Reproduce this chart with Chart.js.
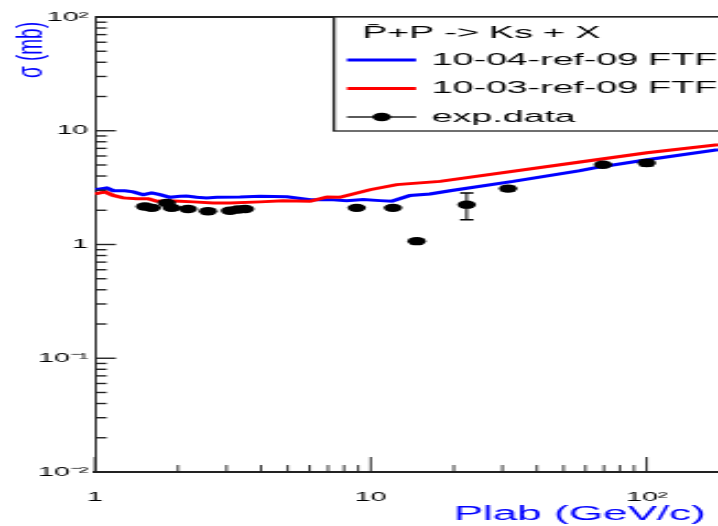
<!DOCTYPE html>
<html>
<head>
<meta charset="utf-8">
<script src="https://cdn.jsdelivr.net/npm/chart.js@4.4.1/dist/chart.umd.min.js"></script>
<style>
  html, body { margin: 0; padding: 0; background: #fff; overflow: hidden; }
  /* plot is laid out narrow and stretched sideways, like the wide canvas it came from */
  #wrap { position: absolute; left: 0; top: 0; width: 326px; height: 526px;
          transform: scaleX(2.2025); transform-origin: 0 0; }
</style>
</head>
<body>
<div id="wrap"><canvas id="xsec"></canvas></div>
<script>
// FTF 10-04-ref-09: Plab (GeV/c) and sigma (mb)
const ftf1004Plab  = [1.0, 1.103, 1.165, 1.285, 1.377, 1.497, 1.606, 1.721, 1.870, 2.033, 2.150, 2.337, 2.541, 2.762, 3.356, 3.966, 4.969, 6.02, 7.11, 8.18, 9.39, 10.80, 11.91, 13.87, 16.39, 19.37, 32.8, 57.4, 63.9, 100.3, 181.5];
const ftf1004Sigma = [3.03, 3.14, 2.97, 2.97, 2.90, 2.74, 2.84, 2.74, 2.60, 2.65, 2.67, 2.60, 2.57, 2.60, 2.62, 2.65, 2.63, 2.48, 2.48, 2.43, 2.48, 2.43, 2.40, 2.70, 2.78, 2.97, 3.59, 4.46, 4.70, 5.56, 6.81];

// FTF 10-03-ref-09
const ftf1003Plab  = [1.0, 1.087, 1.165, 1.266, 1.416, 1.561, 1.674, 1.820, 2.033, 2.273, 2.685, 3.087, 3.966, 4.806, 6.02, 6.94, 7.73, 8.41, 9.93, 12.42, 17.82, 57.4, 100.3, 181.5];
const ftf1003Sigma = [2.78, 2.90, 2.70, 2.57, 2.53, 2.53, 2.40, 2.43, 2.40, 2.37, 2.32, 2.32, 2.37, 2.42, 2.40, 2.62, 2.60, 2.74, 3.03, 3.36, 3.59, 5.31, 6.41, 7.54];

// measured points with error bar ends
const expPlab    = [1.518, 1.606, 1.820, 1.897, 2.174, 2.569, 3.087, 3.30, 3.50, 8.89, 12.03, 14.67, 22.27, 31.45, 69.5, 100.1];
const expSigma   = [2.16, 2.10, 2.32, 2.10, 2.05, 1.96, 1.98, 2.03, 2.05, 2.10, 2.10, 1.07, 2.24, 3.10, 5.03, 5.21];
const expErrLow  = [2.16, 2.10, 2.32, 2.10, 2.05, 1.96, 1.98, 2.03, 2.05, 2.05, 2.05, 1.07, 1.65, 2.95, 4.90, 4.90];
const expErrHigh = [2.16, 2.10, 2.32, 2.10, 2.05, 1.96, 1.98, 2.03, 2.05, 2.15, 2.15, 1.07, 2.84, 3.25, 5.18, 5.55];

const xTickValues = [1, 10, 100];
const xTickLabels = ['1', '10', '10²'];
const yTickValues = [0.01, 0.1, 1, 10, 100];
const yTickLabels = ['10⁻²', '10⁻¹', '1', '10', '10²'];

const seriesLabels = ['10-04-ref-09 FTF', '10-03-ref-09 FTF', 'exp.data'];
const legendTitle = 'P\u0304+P -> Ks + X';
const yTitle = 'σ (mb)';

const FONT = "'Liberation Sans', Arial, Helvetica, sans-serif";
const AXIS_COLOR = '#222';

const toXY = (xs, ys) => xs.map((x, i) => ({ x: x, y: ys[i] }));

// ROOT style tick marks pointing into the frame, plus the top frame line
const insideTicks = {
  id: 'insideTicks',
  afterDatasetsDraw(chart) {
    const { ctx, chartArea: a, scales: { x, y } } = chart;
    ctx.save();
    ctx.strokeStyle = AXIS_COLOR;

    ctx.lineWidth = 2;
    ctx.beginPath();
    ctx.moveTo(a.left, a.top);
    ctx.lineTo(a.right + 2, a.top);
    ctx.stroke();

    ctx.lineWidth = 1.4;
    for (let d = -2; d <= 2; d++) {
      for (let m = 1; m <= 9; m++) {
        const v = m * Math.pow(10, d);
        if (v > y.max * 1.0001) break;
        const py = y.getPixelForValue(v);
        const len = m === 1 ? 9.5 : 5.3;
        ctx.beginPath();
        ctx.moveTo(a.left, py);
        ctx.lineTo(a.left + len, py);
        ctx.stroke();
      }
    }

    ctx.lineWidth = 0.9;
    for (let d = 0; d <= 2; d++) {
      for (let m = 1; m <= 9; m++) {
        const v = m * Math.pow(10, d);
        if (v > x.max) break;
        const px = x.getPixelForValue(v);
        const len = m === 1 ? 15 : 7;
        ctx.beginPath();
        ctx.moveTo(px, a.bottom);
        ctx.lineTo(px, a.bottom - len);
        ctx.stroke();
      }
    }
    ctx.restore();
  }
};

const errorBars = {
  id: 'errorBars',
  afterDatasetsDraw(chart) {
    const { ctx, scales: { x, y } } = chart;
    ctx.save();
    ctx.strokeStyle = '#000';
    expPlab.forEach((p, i) => {
      if (expErrHigh[i] - expErrLow[i] <= 0) return;
      const px = x.getPixelForValue(p);
      const y1 = y.getPixelForValue(expErrLow[i]);
      const y2 = y.getPixelForValue(expErrHigh[i]);
      ctx.lineWidth = 1;
      ctx.beginPath();
      ctx.moveTo(px, y1);
      ctx.lineTo(px, y2);
      ctx.stroke();
      ctx.lineWidth = 1.5;
      ctx.beginPath();
      ctx.moveTo(px - 3, y1); ctx.lineTo(px + 3, y1);
      ctx.moveTo(px - 3, y2); ctx.lineTo(px + 3, y2);
      ctx.stroke();
    });
    ctx.restore();
  }
};

// vertical axis title, top aligned; the built-in one gets squeezed to the scale width
const yAxisTitle = {
  id: 'yAxisTitle',
  afterDraw(chart) {
    const { ctx, chartArea: a } = chart;
    ctx.save();
    ctx.font = '20px ' + FONT;
    const size = 20 * 56 / ctx.measureText(yTitle).width;
    ctx.font = size.toFixed(1) + 'px ' + FONT;
    ctx.fillStyle = '#0000ff';
    ctx.textAlign = 'right';
    ctx.textBaseline = 'middle';
    ctx.translate(14.1, a.top + 5);
    ctx.scale(0.85, 1);
    ctx.rotate(-Math.PI / 2);
    ctx.fillText(yTitle, 0, 0);
    ctx.restore();
  }
};

// TLegend-like box in the upper right corner
const legendBox = {
  id: 'legendBox',
  afterDraw(chart) {
    const { ctx, chartArea: a } = chart;
    const left = 151.6, top = a.top, bottom = 131, right = chart.width + 4;
    ctx.save();
    ctx.fillStyle = '#fff';
    ctx.fillRect(left, top, right - left, bottom - top);
    ctx.strokeStyle = AXIS_COLOR;
    ctx.lineWidth = 1.3;
    ctx.strokeRect(left, top, right - left, bottom - top);

    ctx.font = '17px ' + FONT;
    ctx.textBaseline = 'middle';
    ctx.fillStyle = '#000';
    ctx.fillText(legendTitle, 164.4, 33);

    const rows = [60, 88.5, 117];
    chart.data.datasets.forEach((ds, i) => {
      const ry = rows[i];
      ctx.strokeStyle = ds.borderColor;
      ctx.lineWidth = ds.showLine === false ? 1.3 : 3;
      ctx.beginPath();
      ctx.moveTo(157.5, ry);
      ctx.lineTo(188.9, ry);
      ctx.stroke();
      if (ds.showLine === false) {
        ctx.fillStyle = ds.pointBackgroundColor;
        ctx.beginPath();
        ctx.arc(173.3, ry, ds.pointRadius, 0, Math.PI * 2);
        ctx.fill();
      }
      ctx.fillStyle = '#000';
      ctx.fillText(ds.label, 196.1, ry);
    });
    ctx.restore();
  }
};

new Chart(document.getElementById('xsec'), {
  type: 'line',
  data: {
    datasets: [
      {
        label: seriesLabels[0],
        data: toXY(ftf1004Plab, ftf1004Sigma),
        borderColor: '#0000ff',
        borderWidth: 3,
        pointRadius: 0,
        tension: 0,
        order: 2
      },
      {
        label: seriesLabels[1],
        data: toXY(ftf1003Plab, ftf1003Sigma),
        borderColor: '#ff0000',
        borderWidth: 3,
        pointRadius: 0,
        tension: 0,
        order: 1
      },
      {
        label: seriesLabels[2],
        data: toXY(expPlab, expSigma),
        showLine: false,
        borderColor: '#000',
        pointBackgroundColor: '#000',
        pointBorderWidth: 0,
        pointRadius: 4.2,
        order: 0
      }
    ]
  },
  options: {
    responsive: true,
    maintainAspectRatio: false,
    animation: false,
    devicePixelRatio: 1,
    layout: { padding: { top: 17, right: 0, bottom: 0, left: 0 }, autoPadding: false },
    plugins: {
      legend: { display: false },
      tooltip: { enabled: false }
    },
    scales: {
      x: {
        type: 'logarithmic',
        bounds: 'data',
        min: 1,
        max: 181.5,
        afterBuildTicks: (s) => { s.ticks = xTickValues.map(v => ({ value: v })); },
        afterFit: (s) => { s.height = 54; s.paddingLeft = 0; s.paddingRight = 0; },
        // invisible outside ticks only push the labels down
        grid: { display: true, drawOnChartArea: false, drawTicks: true, tickLength: 16, tickColor: 'rgba(0,0,0,0)' },
        border: { display: true, color: AXIS_COLOR, width: 2 },
        ticks: {
          callback: (v, i) => xTickLabels[i],
          font: { family: FONT, size: 13 },
          color: '#000',
          padding: 2,
          autoSkip: false,
          maxRotation: 0
        },
        title: {
          display: true,
          text: 'Plab (GeV/c) ',
          align: 'end',
          color: '#0000ff',
          font: { family: FONT, size: 20 },
          padding: { top: 0, bottom: 0 }
        }
      },
      y: {
        type: 'logarithmic',
        bounds: 'data',
        min: 0.01,
        max: 100,
        afterBuildTicks: (s) => { s.ticks = yTickValues.map(v => ({ value: v })); },
        afterFit: (s) => { s.width = 43.1; s.paddingTop = 0; s.paddingBottom = 0; },
        grid: { display: true, drawOnChartArea: false, drawTicks: false },
        border: { display: true, color: AXIS_COLOR, width: 1 },
        ticks: {
          callback: (v, i) => yTickLabels[i],
          font: { family: FONT, size: 13 },
          color: '#000',
          padding: 3,
          autoSkip: false
        },
        title: { display: false }
      }
    }
  },
  plugins: [insideTicks, errorBars, yAxisTitle, legendBox]
});
</script>
</body>
</html>
